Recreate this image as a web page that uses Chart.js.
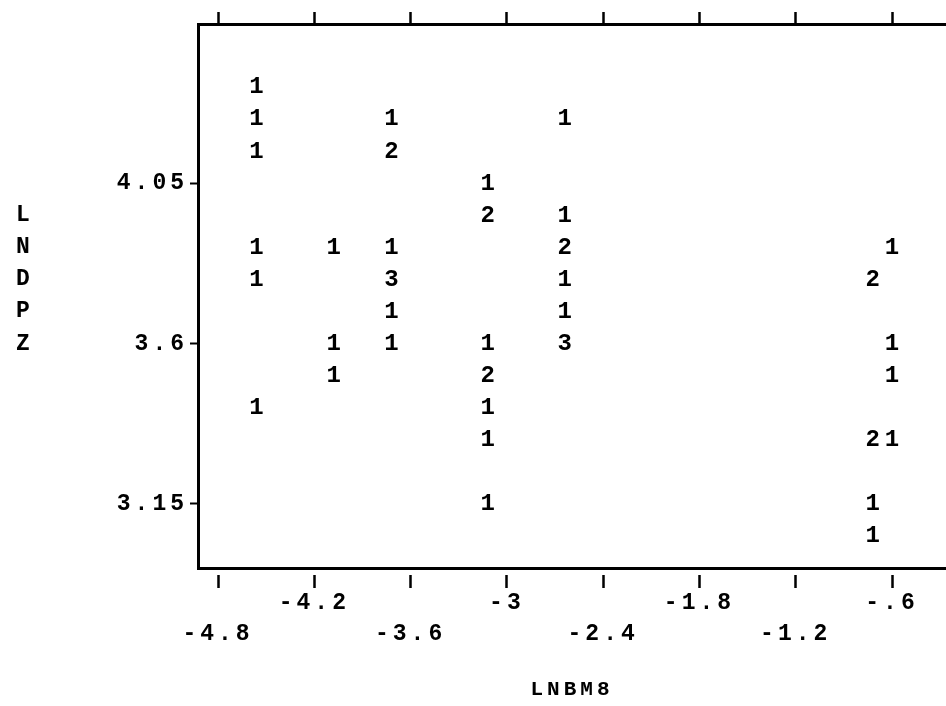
<!DOCTYPE html>
<html>
<head>
<meta charset="utf-8">
<title>LNDPZ by LNBM8</title>
<script src="https://cdn.jsdelivr.net/npm/chart.js@4.4.1/dist/chart.umd.min.js"></script>
<style>
  html, body { margin: 0; padding: 0; background: #fff; overflow: hidden; }
  canvas { display: block; }
</style>
</head>
<body>
<canvas id="plotCanvas" width="946" height="706"></canvas>
<script>
// Line-printer style plot: every cell prints how many observations landed on it
const lnbm8 = [
    -4.56, -4.56, -4.56, -4.56, -4.56, -4.56,
    -4.08, -4.08, -4.08,
    -3.72, -3.72, -3.72, -3.72, -3.72, -3.72,
    -3.12, -3.12, -3.12, -3.12, -3.12, -3.12, -3.12,
    -2.64, -2.64, -2.64, -2.64, -2.64, -2.64,
    -0.72, -0.72, -0.72, -0.72,
    -0.6, -0.6, -0.6, -0.6
];
const lndpz = [
    4.32, 4.23, 4.14, 3.87, 3.78, 3.42,
    3.87, 3.6, 3.51,
    4.23, 4.14, 3.87, 3.78, 3.69, 3.6,
    4.05, 3.96, 3.6, 3.51, 3.42, 3.33, 3.15,
    4.23, 3.96, 3.87, 3.78, 3.69, 3.6,
    3.78, 3.33, 3.15, 3.06,
    3.87, 3.6, 3.51, 3.33
];
const obsCount = [
    1, 1, 1, 1, 1, 1,
    1, 1, 1,
    1, 2, 1, 3, 1, 1,
    1, 2, 1, 2, 1, 1, 1,
    1, 1, 2, 1, 1, 3,
    2, 2, 1, 1,
    1, 1, 1, 1
];

const xTickValues = [-4.8, -4.2, -3.6, -3, -2.4, -1.8, -1.2, -0.6];
const yTickValues = [3.15, 3.6, 4.05];
const yTitleLetters = ['L', 'N', 'D', 'P', 'Z'];

const MONO = '"Liberation Mono", "DejaVu Sans Mono", monospace';
const INK = '#000';

// "-0.6" -> "-.6", "-3.0" -> "-3"
function fmt(v) {
    const s = (Math.round(v * 100) / 100).toString();
    return s.replace(/^(-?)0\./, '$1.');
}

// wide printer spacing for every piece of text the chart draws
const printerSpacing = {
    id: 'printerSpacing',
    beforeDraw(chart) { chart.ctx.letterSpacing = '4px'; }
};

// the counts themselves, printed where each point sits
const countLabels = {
    id: 'countLabels',
    afterDatasetsDraw(chart) {
        const ctx = chart.ctx;
        const meta = chart.getDatasetMeta(0);
        ctx.save();
        ctx.letterSpacing = '0px';
        ctx.font = 'bold 24px ' + MONO;
        ctx.fillStyle = INK;
        ctx.textAlign = 'center';
        ctx.textBaseline = 'middle';
        meta.data.forEach((pt, i) => ctx.fillText(String(obsCount[i]), pt.x, pt.y));
        ctx.restore();
    }
};

// y title is printed one letter per row, top to bottom
const stackedYTitle = {
    id: 'stackedYTitle',
    afterDraw(chart) {
        const ctx = chart.ctx;
        const yScale = chart.scales.y;
        ctx.save();
        ctx.letterSpacing = '0px';
        ctx.font = 'bold 23px ' + MONO;
        ctx.fillStyle = INK;
        ctx.textAlign = 'center';
        ctx.textBaseline = 'middle';
        yTitleLetters.forEach((ch, i) => {
            ctx.fillText(ch, 23, yScale.getPixelForValue(3.96 - i * 0.09));
        });
        ctx.restore();
    }
};

const tickFont = { family: MONO, size: 23, weight: 'bold', lineHeight: '31px' };

new Chart(document.getElementById('plotCanvas'), {
    type: 'scatter',
    data: {
        datasets: [{
            data: lnbm8.map((x, i) => ({ x: x, y: lndpz[i] })),
            pointRadius: 0,
            pointHoverRadius: 0
        }]
    },
    options: {
        responsive: false,
        animation: false,
        events: [],
        layout: { padding: 0 },
        plugins: {
            legend: { display: false },
            tooltip: { enabled: false }
        },
        scales: {
            x: {
                type: 'linear',
                position: 'bottom',
                min: -4.925,
                max: -0.2635,
                afterBuildTicks: s => { s.ticks = xTickValues.map(v => ({ value: v })); },
                afterFit: s => { s.height = 138; },
                border: { display: true, color: INK, width: 3 },
                grid: {
                    drawOnChartArea: false,
                    tickLength: 20,
                    tickWidth: 2.5,
                    tickColor: INK,
                    tickBorderDash: [0, 5, 15, 0]
                },
                ticks: {
                    autoSkip: false,
                    maxRotation: 0,
                    minRotation: 0,
                    padding: 0,
                    color: INK,
                    font: tickFont,
                    // alternate labels drop to a second row
                    callback: (value, index) => index % 2 === 0 ? ['', fmt(value)] : fmt(value)
                },
                title: {
                    display: true,
                    text: 'LNBM8',
                    color: INK,
                    font: { family: MONO, size: 21, weight: 'bold' },
                    padding: { top: 0, bottom: 4 }
                }
            },
            xTop: {
                type: 'linear',
                position: 'top',
                min: -4.925,
                max: -0.2635,
                afterBuildTicks: s => { s.ticks = xTickValues.map(v => ({ value: v })); },
                afterFit: s => { s.height = 24; },
                border: { display: true, color: INK, width: 3 },
                grid: {
                    drawOnChartArea: false,
                    tickLength: 12,
                    tickWidth: 2.5,
                    tickColor: INK
                },
                ticks: { display: false }
            },
            y: {
                type: 'linear',
                position: 'left',
                min: 2.97,
                max: 4.498,
                afterBuildTicks: s => { s.ticks = yTickValues.map(v => ({ value: v })); },
                afterFit: s => { s.width = 198; },
                border: { display: true, color: INK, width: 3 },
                grid: {
                    drawOnChartArea: false,
                    tickLength: 8,
                    tickWidth: 2,
                    tickColor: INK
                },
                ticks: {
                    padding: 2,
                    color: INK,
                    font: { family: MONO, size: 23, weight: 'bold' },
                    callback: value => fmt(value)
                }
            }
        }
    },
    plugins: [printerSpacing, countLabels, stackedYTitle]
});
</script>
</body>
</html>
